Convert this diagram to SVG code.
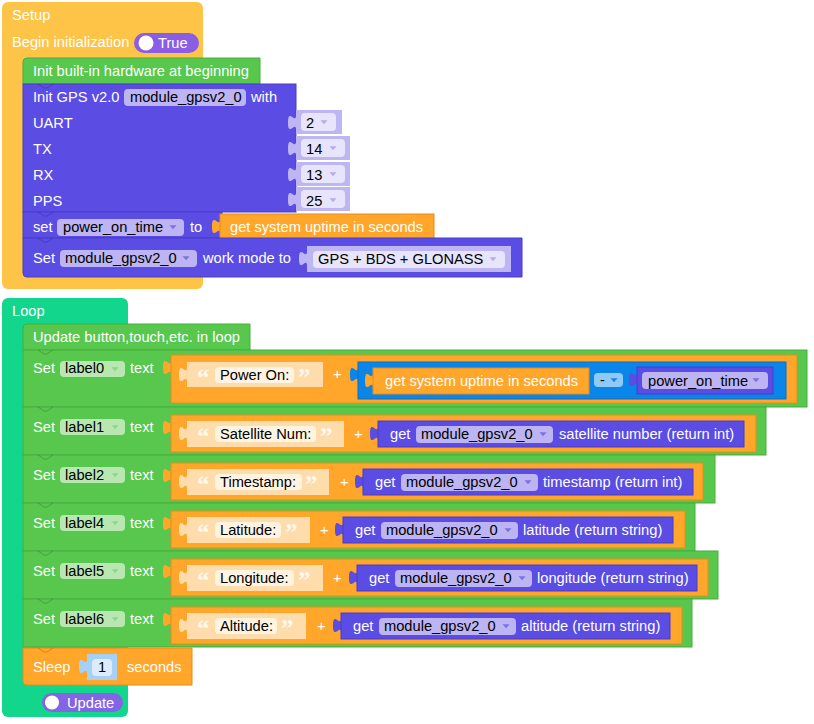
<svg xmlns="http://www.w3.org/2000/svg" width="814" height="724" viewBox="0 0 814 724">
<style>
text{font-family:"Liberation Sans",Arial,sans-serif;font-size:14.67px;fill:#fff}
text.d{fill:#000}
text.q{font-family:"Liberation Serif","Times New Roman",serif;font-weight:bold;font-size:25px;fill:#fff;fill-opacity:0.85}
.yel{fill:#fec447}
.grn{fill:#57c84d;stroke:#48ad3f;stroke-width:1}
.pur{fill:#5b4ce4;stroke:#4b3dc9;stroke-width:1}
.pf{fill:#bcb4f3}
.lav{fill:#bdb6f3}
.lavf{fill:#e7e4fb}
.or{fill:#ffa62b;stroke:#e38e1a;stroke-width:1}
.ort{fill:#ffa62b}
.pc{fill:#fedcac}
.pcf{fill:#fff3e2}
.blu{fill:#0a85ea;stroke:#0a6fc4;stroke-width:1}
.tea{fill:#12d68b}
.lf{fill:#b8e7b1}
.nt{fill:none;stroke:#000;stroke-opacity:0.18;stroke-width:1}
</style>
<defs>
<path id="tab" d="M0,5 c0,10 -8,-8 -8,7.5 s8,-2.5 8,7.5z"/>
<path id="ar" d="M-3.5,-1.8 h7 l-3.5,4z"/>
</defs>

<g id="setup">
<rect x="2" y="2" width="201" height="287" rx="6" class="yel"/>
<text x="12" y="20">Setup</text>
<text x="12" y="47">Begin initialization</text>
<rect x="134" y="33" width="65" height="20" rx="10" fill="#8b5de4"/>
<circle cx="146" cy="43" r="7.5" fill="#fff"/>
<text x="158" y="48">True</text>
</g>

<g id="init-hardware">
<path d="M23,84 V62 a4,4 0 0 1 4,-4 H260 V84 Z" fill="#57c84d" stroke="#48ad3f"/>
<text x="33" y="76">Init built-in hardware at beginning</text>
</g>

<g id="init-gps">
<rect x="23" y="84" width="273" height="128" class="pur"/>
<path d="M38,84 l6,4 h3 l6,-4" class="nt"/>
<text x="33" y="102">Init GPS v2.0</text>
<rect x="124" y="89" width="122" height="17" rx="4" class="pf"/>
<text class="d" x="130" y="102">module_gpsv2_0</text>
<text x="251" y="102">with</text>
<text x="33" y="128">UART</text>
<text x="33" y="154">TX</text>
<text x="33" y="180">RX</text>
<text x="33" y="206">PPS</text>
<use href="#tab" x="296" y="110" class="lav"/>
<rect x="296" y="110" width="46" height="24" class="lav"/>
<rect x="301" y="113" width="35" height="18" rx="4" class="lavf"/>
<text class="d" x="306" y="128">2</text>
<use href="#ar" x="324" y="122" fill="#b4adec"/>
<use href="#tab" x="296" y="136" class="lav"/>
<rect x="296" y="136" width="54" height="24" class="lav"/>
<rect x="301" y="139" width="44" height="18" rx="4" class="lavf"/>
<text class="d" x="306" y="154">14</text>
<use href="#ar" x="333" y="148" fill="#b4adec"/>
<use href="#tab" x="296" y="162" class="lav"/>
<rect x="296" y="162" width="54" height="24" class="lav"/>
<rect x="301" y="165" width="44" height="18" rx="4" class="lavf"/>
<text class="d" x="306" y="180">13</text>
<use href="#ar" x="333" y="174" fill="#b4adec"/>
<use href="#tab" x="296" y="187" class="lav"/>
<rect x="296" y="187" width="54" height="24" class="lav"/>
<rect x="301" y="190" width="44" height="18" rx="4" class="lavf"/>
<text class="d" x="306" y="206">25</text>
<use href="#ar" x="333" y="200" fill="#b4adec"/>
</g>

<g id="set-power-on-time">
<rect x="23" y="212" width="199" height="26" class="pur"/>
<path d="M38,212 l6,4 h3 l6,-4" class="nt"/>
<text x="33" y="232">set</text>
<rect x="57" y="219" width="127" height="17" rx="4" class="pf"/>
<text class="d" x="63" y="232">power_on_time</text>
<use href="#ar" x="173" y="227" fill="#7c70e2"/>
<text x="190" y="232">to</text>
<use href="#tab" x="220" y="214" class="ort"/>
<rect x="220" y="214" width="214" height="25" class="or"/>
<text x="230" y="232">get system uptime in seconds</text>
</g>

<g id="set-work-mode">
<path d="M23,238 H522 V277 H27 a4,4 0 0 1 -4,-4 Z" class="pur"/>
<path d="M38,238 l6,4 h3 l6,-4" class="nt"/>
<text x="33" y="263">Set</text>
<rect x="60" y="250" width="137" height="17" rx="4" class="pf"/>
<text class="d" x="65" y="263">module_gpsv2_0</text>
<use href="#ar" x="186" y="258" fill="#7c70e2"/>
<text x="203" y="263">work mode to</text>
<use href="#tab" x="307" y="246" class="lav"/>
<rect x="307" y="246" width="204" height="26" class="lav"/>
<rect x="313" y="251" width="192" height="17" rx="4" class="lavf"/>
<text class="d" x="318" y="264">GPS + BDS + GLONASS</text>
<use href="#ar" x="493" y="259" fill="#b4adec"/>
</g>

<g id="loop">
<rect x="2" y="298" width="126" height="419" rx="6" class="tea"/>
<text x="12" y="316">Loop</text>
<rect x="42" y="693" width="81" height="19" rx="9.5" fill="#8464e4"/>
<circle cx="52" cy="702.5" r="7" fill="#fff"/>
<text x="67" y="708">Update</text>
</g>

<g id="update-button">
<path d="M23,350 V328 a4,4 0 0 1 4,-4 H250 V350 Z" fill="#57c84d" stroke="#48ad3f"/>
<text x="33" y="342">Update button,touch,etc. in loop</text>
</g>

<g id="set-label0">
<rect x="23" y="350" width="784" height="57" class="grn"/>
<path d="M38,350 l6,4 h3 l6,-4" class="nt"/>
<text x="33" y="373">Set</text>
<rect x="60" y="361" width="65" height="16" rx="4" class="lf"/>
<text class="d" x="65" y="373">label0</text>
<use href="#ar" x="115" y="369" fill="#8fd488"/>
<text x="130" y="373">text</text>
<use href="#tab" x="171" y="355" class="ort"/>
<rect x="171" y="355" width="626" height="48" class="or"/>
<use href="#tab" x="187" y="362" class="pc"/>
<rect x="187" y="362" width="136" height="25" class="pc"/>
<text class="q" x="197" y="386">“</text>
<rect x="215" y="367" width="79" height="16" rx="4" class="pcf"/>
<text class="d" x="220" y="380">Power On:</text>
<text class="q" x="298" y="386">”</text>
<text x="333" y="379">+</text>
<use href="#tab" x="358" y="362" fill="#0a85ea"/>
<rect x="358" y="362" width="428" height="37" class="blu"/>
<use href="#tab" x="373" y="368" class="ort"/>
<rect x="373" y="368" width="216" height="26" class="or"/>
<text x="385" y="386">get system uptime in seconds</text>
<rect x="594" y="373" width="29" height="14" rx="4" fill="#8fcaf6"/>
<text class="d" x="600" y="385">-</text>
<use href="#ar" x="614" y="380" fill="#1a84e6"/>
<use href="#tab" x="637" y="367" fill="#5b4ce4"/>
<rect x="637" y="367" width="136" height="27" class="pur"/>
<rect x="642" y="372" width="126" height="17" rx="4" class="pf"/>
<text class="d" x="648" y="386">power_on_time</text>
<use href="#ar" x="756" y="380" fill="#7c70e2"/>
</g>

<g id="set-label1">
<rect x="23" y="407" width="743" height="48" class="grn"/>
<path d="M38,407 l6,4 h3 l6,-4" class="nt"/>
<text x="33" y="432">Set</text>
<rect x="60" y="419" width="65" height="16" rx="4" class="lf"/>
<text class="d" x="65" y="432">label1</text>
<use href="#ar" x="115" y="427" fill="#8fd488"/>
<text x="130" y="432">text</text>
<use href="#tab" x="171" y="415" class="ort"/>
<rect x="171" y="415" width="585" height="37" class="or"/>
<use href="#tab" x="187" y="421" class="pc"/>
<rect x="187" y="421" width="157" height="26" class="pc"/>
<text class="q" x="197" y="445">“</text>
<rect x="215" y="426" width="101" height="16" rx="4" class="pcf"/>
<text class="d" x="220" y="439">Satellite Num:</text>
<text class="q" x="320" y="445">”</text>
<text x="354" y="439">+</text>
<use href="#tab" x="378" y="421" fill="#5b4ce4"/>
<rect x="378" y="421" width="366" height="26" class="pur"/>
<text x="390" y="439">get</text>
<rect x="416" y="426" width="137" height="17" rx="4" class="pf"/>
<text class="d" x="421" y="439">module_gpsv2_0</text>
<use href="#ar" x="543" y="434" fill="#7c70e2"/>
<text x="559" y="439">satellite number (return int)</text>
</g>

<g id="set-label2">
<rect x="23" y="455" width="692" height="48" class="grn"/>
<path d="M38,455 l6,4 h3 l6,-4" class="nt"/>
<text x="33" y="480">Set</text>
<rect x="60" y="467" width="65" height="16" rx="4" class="lf"/>
<text class="d" x="65" y="480">label2</text>
<use href="#ar" x="115" y="475" fill="#8fd488"/>
<text x="130" y="480">text</text>
<use href="#tab" x="171" y="463" class="ort"/>
<rect x="171" y="463" width="532" height="37" class="or"/>
<use href="#tab" x="187" y="469" class="pc"/>
<rect x="187" y="469" width="142" height="26" class="pc"/>
<text class="q" x="197" y="493">“</text>
<rect x="215" y="474" width="87" height="16" rx="4" class="pcf"/>
<text class="d" x="220" y="487">Timestamp:</text>
<text class="q" x="305" y="493">”</text>
<text x="340" y="487">+</text>
<use href="#tab" x="363" y="469" fill="#5b4ce4"/>
<rect x="363" y="469" width="330" height="26" class="pur"/>
<text x="375" y="487">get</text>
<rect x="401" y="474" width="137" height="17" rx="4" class="pf"/>
<text class="d" x="406" y="487">module_gpsv2_0</text>
<use href="#ar" x="528" y="482" fill="#7c70e2"/>
<text x="543" y="487">timestamp (return int)</text>
</g>

<g id="set-label4">
<rect x="23" y="503" width="672" height="48" class="grn"/>
<path d="M38,503 l6,4 h3 l6,-4" class="nt"/>
<text x="33" y="528">Set</text>
<rect x="60" y="515" width="65" height="16" rx="4" class="lf"/>
<text class="d" x="65" y="528">label4</text>
<use href="#ar" x="115" y="523" fill="#8fd488"/>
<text x="130" y="528">text</text>
<use href="#tab" x="171" y="511" class="ort"/>
<rect x="171" y="511" width="514" height="37" class="or"/>
<use href="#tab" x="187" y="517" class="pc"/>
<rect x="187" y="517" width="123" height="26" class="pc"/>
<text class="q" x="197" y="541">“</text>
<rect x="215" y="522" width="66" height="16" rx="4" class="pcf"/>
<text class="d" x="220" y="535">Latitude:</text>
<text class="q" x="285" y="541">”</text>
<text x="320" y="535">+</text>
<use href="#tab" x="343" y="517" fill="#5b4ce4"/>
<rect x="343" y="517" width="330" height="26" class="pur"/>
<text x="355" y="535">get</text>
<rect x="381" y="522" width="137" height="17" rx="4" class="pf"/>
<text class="d" x="386" y="535">module_gpsv2_0</text>
<use href="#ar" x="508" y="530" fill="#7c70e2"/>
<text x="523" y="535">latitude (return string)</text>
</g>

<g id="set-label5">
<rect x="23" y="551" width="695" height="48" class="grn"/>
<path d="M38,551 l6,4 h3 l6,-4" class="nt"/>
<text x="33" y="576">Set</text>
<rect x="60" y="563" width="65" height="16" rx="4" class="lf"/>
<text class="d" x="65" y="576">label5</text>
<use href="#ar" x="115" y="571" fill="#8fd488"/>
<text x="130" y="576">text</text>
<use href="#tab" x="171" y="559" class="ort"/>
<rect x="171" y="559" width="537" height="37" class="or"/>
<use href="#tab" x="187" y="565" class="pc"/>
<rect x="187" y="565" width="136" height="26" class="pc"/>
<text class="q" x="197" y="589">“</text>
<rect x="215" y="570" width="79" height="16" rx="4" class="pcf"/>
<text class="d" x="220" y="583">Longitude:</text>
<text class="q" x="298" y="589">”</text>
<text x="333" y="583">+</text>
<use href="#tab" x="357" y="565" fill="#5b4ce4"/>
<rect x="357" y="565" width="340" height="26" class="pur"/>
<text x="369" y="583">get</text>
<rect x="395" y="570" width="137" height="17" rx="4" class="pf"/>
<text class="d" x="400" y="583">module_gpsv2_0</text>
<use href="#ar" x="522" y="578" fill="#7c70e2"/>
<text x="537" y="583">longitude (return string)</text>
</g>

<g id="set-label6">
<rect x="23" y="599" width="669" height="48" class="grn"/>
<path d="M38,599 l6,4 h3 l6,-4" class="nt"/>
<text x="33" y="624">Set</text>
<rect x="60" y="611" width="65" height="16" rx="4" class="lf"/>
<text class="d" x="65" y="624">label6</text>
<use href="#ar" x="115" y="619" fill="#8fd488"/>
<text x="130" y="624">text</text>
<use href="#tab" x="171" y="607" class="ort"/>
<rect x="171" y="607" width="511" height="37" class="or"/>
<use href="#tab" x="187" y="613" class="pc"/>
<rect x="187" y="613" width="119" height="26" class="pc"/>
<text class="q" x="197" y="637">“</text>
<rect x="215" y="618" width="62" height="16" rx="4" class="pcf"/>
<text class="d" x="220" y="631">Altitude:</text>
<text class="q" x="281" y="637">”</text>
<text x="317" y="631">+</text>
<use href="#tab" x="341" y="613" fill="#5b4ce4"/>
<rect x="341" y="613" width="329" height="26" class="pur"/>
<text x="353" y="631">get</text>
<rect x="379" y="618" width="137" height="17" rx="4" class="pf"/>
<text class="d" x="384" y="631">module_gpsv2_0</text>
<use href="#ar" x="506" y="626" fill="#7c70e2"/>
<text x="521" y="631">altitude (return string)</text>
</g>

<g id="sleep">
<path d="M23,648 H192 V685 H27 a4,4 0 0 1 -4,-4 Z" class="or"/>
<path d="M38,648 l6,4 h3 l6,-4" class="nt"/>
<text x="33" y="672">Sleep</text>
<use href="#tab" x="87" y="654" fill="#a6d1f6"/>
<rect x="87" y="654" width="30" height="26" fill="#a6d1f6"/>
<rect x="92" y="659" width="20" height="17" rx="4" fill="#dcecfb"/>
<text class="d" x="98" y="672">1</text>
<text x="127" y="672">seconds</text>
</g>
</svg>
